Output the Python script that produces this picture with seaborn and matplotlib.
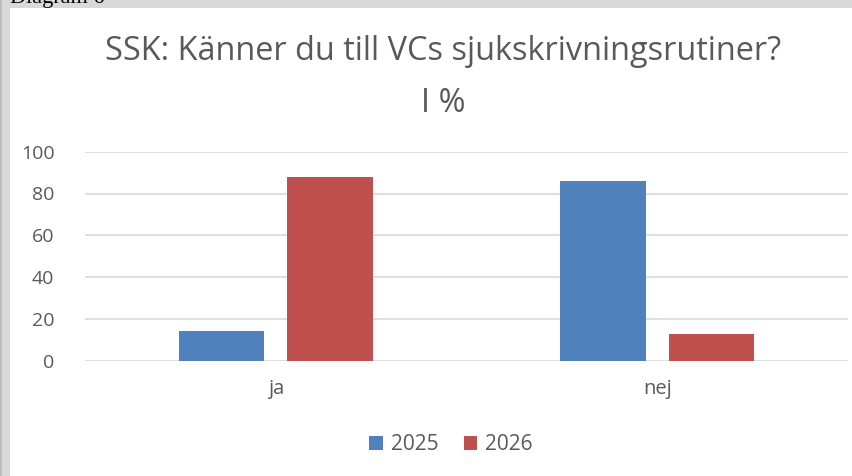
import matplotlib
matplotlib.use("Agg")
import matplotlib.pyplot as plt
import seaborn as sns
import pandas as pd
from matplotlib.patches import Rectangle

categories = ["ja", "nej"]
years = ["2025", "2026"]
values_2025 = [14, 86]
values_2026 = [88, 13]
yticks = [0, 20, 40, 60, 80, 100]
title_line1 = "SSK: Känner du till VCs sjukskrivningsrutiner?"
title_line2 = "I %"
caption = "Diagram 6"

df = pd.DataFrame({
    "svar": categories * 2,
    "år": [years[0]] * len(categories) + [years[1]] * len(categories),
    "procent": values_2025 + values_2026,
})

sns.set_theme(style="white")
plt.rcParams["font.family"] = ["Open Sans", "DejaVu Sans"]

TXT = "#595959"
W, H = 853, 476
fig = plt.figure(figsize=(W / 100, H / 100), dpi=100)
fig.patch.set_facecolor("white")

# gray page border (top and left)
fig.patches.append(Rectangle((0, 1 - 8 / H), 1, 8 / H, transform=fig.transFigure,
                             facecolor="#d9d9d9", edgecolor="none", zorder=0))
fig.patches.append(Rectangle((0, 0), 10 / W, 1, transform=fig.transFigure,
                             facecolor="#d9d9d9", edgecolor="none", zorder=0))
fig.patches.append(Rectangle((0, 0), 2.5 / W, 1, transform=fig.transFigure,
                             facecolor="#bfbfbf", edgecolor="none", zorder=0))
fig.text(10 / W, 1 - 2.5 / H, caption, family="Liberation Serif", fontsize=16,
         color="black", va="baseline", ha="left")

ax = fig.add_axes([85 / W, (H - 360.7) / H, 763 / W, 209 / H])
sns.barplot(data=df, x="svar", y="procent", hue="år", order=categories,
            hue_order=years, palette=["#4f81bd", "#c0504d"], width=0.5686,
            gap=0.212, ax=ax, linewidth=0, saturation=1, errorbar=None)

ax.set_ylim(0, 100)
ax.set_xlim(-0.5, 1.5)
ax.set_yticks(yticks)
ax.set_yticklabels([str(t) for t in yticks])
ax.yaxis.grid(True, color="#d9d9d9", linewidth=1.2)
ax.set_axisbelow(True)
for s in ax.spines.values():
    s.set_visible(False)
ax.set_xlabel("")
ax.set_ylabel("")
ax.tick_params(axis="y", length=0, pad=22, labelsize=14, labelcolor=TXT)
ax.tick_params(axis="x", length=0, pad=13, labelsize=14.5, labelcolor=TXT)

handles, labels = ax.get_legend_handles_labels()
ax.get_legend().remove()
fig.legend(handles, labels, loc="center", bbox_to_anchor=(451 / W, 1 - 445 / H),
           ncol=2, frameon=False, fontsize=15, labelcolor=TXT,
           handlelength=0.65, handleheight=0.65, handletextpad=0.4,
           columnspacing=1.2)

fig.text(443 / W, 1 - 51 / H, title_line1, ha="center", va="center",
         fontsize=23.4, color=TXT)
fig.text(443 / W, 1 - 104 / H, title_line2, ha="center", va="center",
         fontsize=23.4, color=TXT)

fig.savefig("out.png", dpi=100)
